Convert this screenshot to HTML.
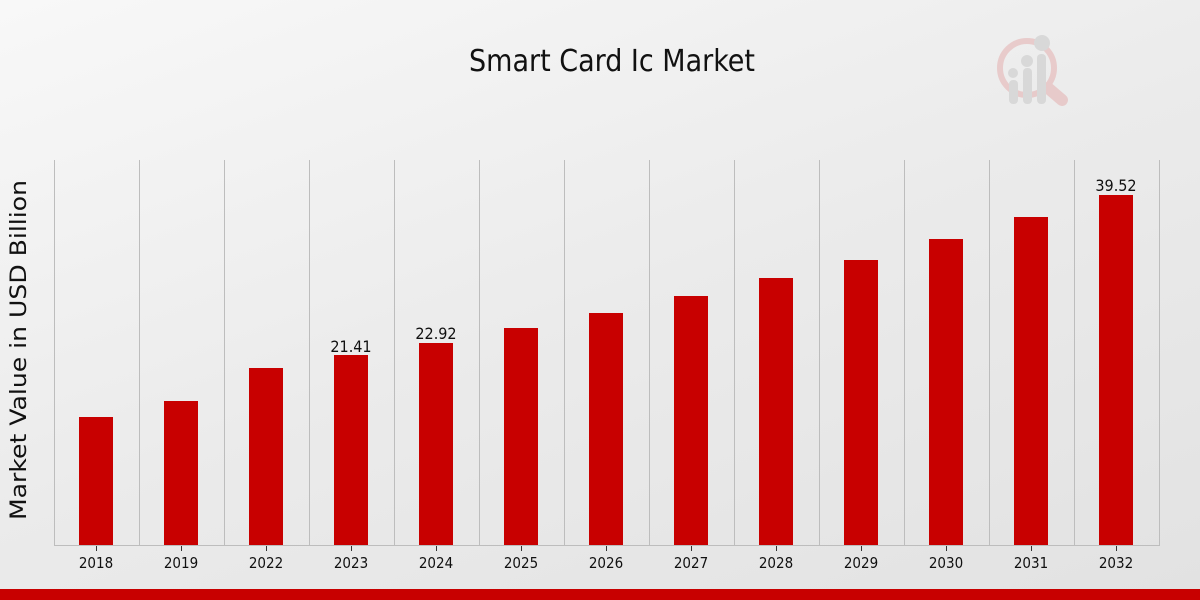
<!DOCTYPE html>
<html><head><meta charset="utf-8"><style>
html,body{margin:0;padding:0;width:1200px;height:600px;overflow:hidden}
body{background:linear-gradient(160deg,#f8f8f8 0%,#ebebeb 50%,#e2e2e2 100%);font-family:"DejaVu Sans Condensed","DejaVu Sans","Liberation Sans",sans-serif}
</style></head><body>
<svg width="1200" height="600" xmlns="http://www.w3.org/2000/svg" style="position:absolute;left:0;top:0">
<text x="612" y="71" text-anchor="middle" font-size="30" fill="#111" font-family="DejaVu Sans Condensed, DejaVu Sans, sans-serif">Smart Card Ic Market</text>
<g opacity="0.55">
<circle cx="1027" cy="68" r="27" fill="none" stroke="#e4b0b0" stroke-width="6"/>
<line x1="1048" y1="88" x2="1062" y2="100" stroke="#e4b0b0" stroke-width="12" stroke-linecap="round"/>
<rect x="1009" y="80" width="9" height="24" rx="4" fill="#c8c8c8"/>
<rect x="1023" y="68" width="9" height="36" rx="4" fill="#c8c8c8"/>
<rect x="1037" y="54" width="9" height="50" rx="4" fill="#c8c8c8"/>
<circle cx="1013" cy="73" r="5" fill="#c8c8c8"/><circle cx="1027" cy="61" r="6" fill="#c8c8c8"/><circle cx="1042" cy="43" r="8" fill="#c8c8c8"/>
</g>
<g stroke="#bdbdbd" stroke-width="1">
<line x1="54.5" y1="160" x2="54.5" y2="545"/><line x1="139.5" y1="160" x2="139.5" y2="545"/><line x1="224.5" y1="160" x2="224.5" y2="545"/><line x1="309.5" y1="160" x2="309.5" y2="545"/><line x1="394.5" y1="160" x2="394.5" y2="545"/><line x1="479.5" y1="160" x2="479.5" y2="545"/><line x1="564.5" y1="160" x2="564.5" y2="545"/><line x1="649.5" y1="160" x2="649.5" y2="545"/><line x1="734.5" y1="160" x2="734.5" y2="545"/><line x1="819.5" y1="160" x2="819.5" y2="545"/><line x1="904.5" y1="160" x2="904.5" y2="545"/><line x1="989.5" y1="160" x2="989.5" y2="545"/><line x1="1074.5" y1="160" x2="1074.5" y2="545"/><line x1="1159.5" y1="160" x2="1159.5" y2="545"/>
<line x1="54" y1="545.5" x2="1160" y2="545.5"/>
</g>
<g fill="#c80000">
<rect x="79" y="417" width="34" height="128"/>
<rect x="164" y="401" width="34" height="144"/>
<rect x="249" y="368" width="34" height="177"/>
<rect x="334" y="355" width="34" height="190"/>
<rect x="419" y="343" width="34" height="202"/>
<rect x="504" y="328" width="34" height="217"/>
<rect x="589" y="313" width="34" height="232"/>
<rect x="674" y="296" width="34" height="249"/>
<rect x="759" y="278" width="34" height="267"/>
<rect x="844" y="260" width="34" height="285"/>
<rect x="929" y="239" width="34" height="306"/>
<rect x="1014" y="217" width="34" height="328"/>
<rect x="1099" y="195" width="34" height="350"/>
</g>
<g stroke="#333" stroke-width="1">
<line x1="96.5" y1="546" x2="96.5" y2="551"/><line x1="181.5" y1="546" x2="181.5" y2="551"/><line x1="266.5" y1="546" x2="266.5" y2="551"/><line x1="351.5" y1="546" x2="351.5" y2="551"/><line x1="436.5" y1="546" x2="436.5" y2="551"/><line x1="521.5" y1="546" x2="521.5" y2="551"/><line x1="606.5" y1="546" x2="606.5" y2="551"/><line x1="691.5" y1="546" x2="691.5" y2="551"/><line x1="776.5" y1="546" x2="776.5" y2="551"/><line x1="861.5" y1="546" x2="861.5" y2="551"/><line x1="946.5" y1="546" x2="946.5" y2="551"/><line x1="1031.5" y1="546" x2="1031.5" y2="551"/><line x1="1116.5" y1="546" x2="1116.5" y2="551"/>
</g>
<g font-size="15" fill="#111" text-anchor="middle">
<text x="96" y="568">2018</text><text x="181" y="568">2019</text><text x="266" y="568">2022</text><text x="351" y="568">2023</text><text x="436" y="568">2024</text><text x="521" y="568">2025</text><text x="606" y="568">2026</text><text x="691" y="568">2027</text><text x="776" y="568">2028</text><text x="861" y="568">2029</text><text x="946" y="568">2030</text><text x="1031" y="568">2031</text><text x="1116" y="568">2032</text>
</g>
<g font-size="16" fill="#111" text-anchor="middle">
<text x="351" y="352">21.41</text><text x="436" y="339">22.92</text><text x="1116" y="191">39.52</text>
</g>
<text transform="translate(26,350) rotate(-90)" text-anchor="middle" font-size="22" fill="#111" textLength="340" lengthAdjust="spacingAndGlyphs" font-family="DejaVu Sans, sans-serif">Market Value in USD Billion</text>
<rect x="0" y="589" width="1200" height="11" fill="#c80000"/>
</svg>
</body></html>
